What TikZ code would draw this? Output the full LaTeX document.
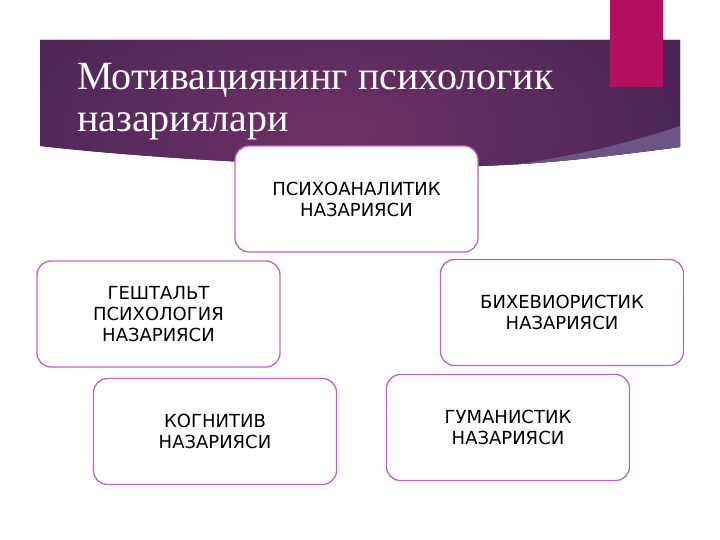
\documentclass[tikz,border=0pt]{standalone}
\usepackage{fontspec}
\usepackage{tikz}
\newfontfamily\titlefont{Liberation Serif}
\newfontfamily\boxfont{DejaVu Sans}

\definecolor{bannerdark}{HTML}{3B2150}
\definecolor{bannerlight}{HTML}{6E3067}
\definecolor{swooshgrey}{HTML}{6B5586}
\definecolor{accentred}{HTML}{B3105F}
\definecolor{boxedge}{HTML}{C462C4}

\tikzset{
  theory/.style={draw=boxedge,line width=1.3pt,rounded corners=14pt,fill=white,
    minimum width=243pt,minimum height=106pt,align=center,
    font=\boxfont\fontsize{18}{21}\selectfont,text=black}
}

\begin{document}
\begin{tikzpicture}[x=1pt,y=-1pt,node distance=115pt]
      \useasboundingbox (0,0) rectangle (720,540);
      \fill[white] (0,0) rectangle (720,540);

      % banner
      \begin{scope}
        \clip (40,40) -- (680,40) -- (680,147)
          .. controls (580,160) and (520,167) .. (420,167)
          .. controls (260,166) and (120,155) .. (40,146) -- cycle;
        \fill[bannerdark] (0,0) rectangle (720,200);
        \shade[inner color=bannerlight,outer color=bannerdark] (-200,-120) rectangle (860,380);
        \fill[swooshgrey] (680,126) .. controls (620,146) and (560,160) .. (470,170)
          -- (700,170) -- cycle;
      \end{scope}
      \fill[accentred] (610,0) rectangle (663,87);

      \node[anchor=base west,text=white,font=\titlefont\fontsize{40}{42}\selectfont,
        align=left,inner sep=0pt] (title) at (77,132)
        {Мотивациянинг психологик\\назариялари};

      \node[theory] (psy) at (356.5,199) {ПСИХОАНАЛИТИК\\НАЗАРИЯСИ};
      \node[theory,below of=psy,xshift=-198pt] (gest) {ГЕШТАЛЬТ\\ПСИХОЛОГИЯ\\НАЗАРИЯСИ};
      \node[theory,below of=psy,xshift=205.5pt,yshift=1.5pt] (beh) {БИХЕВИОРИСТИК\\НАЗАРИЯСИ};
      \node[theory,below of=gest,xshift=56.5pt,yshift=-2.5pt] (cog) {КОГНИТИВ\\НАЗАРИЯСИ};
      \node[theory,below of=beh,xshift=-54pt] (hum) {ГУМАНИСТИК\\НАЗАРИЯСИ};
    \end{tikzpicture}
\end{document}
